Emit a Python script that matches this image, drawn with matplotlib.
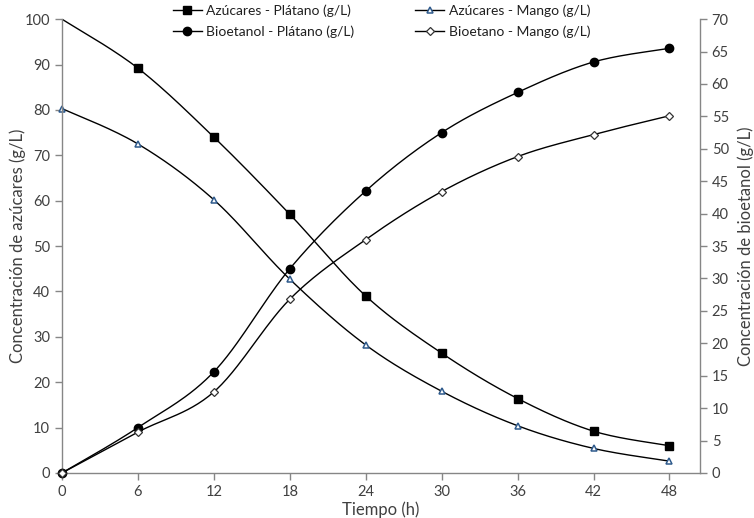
import numpy as np
import matplotlib
matplotlib.use("Agg")
import matplotlib.pyplot as plt
from matplotlib.lines import Line2D

plt.rcParams['font.family'] = ['Lato', 'DejaVu Sans']

# Tiempo de fermentación (h)
tiempo = [0, 6, 12, 18, 24, 30, 36, 42, 48]

# Azúcares (g/L) - eje izquierdo
azucar_platano = [100.0, 89.2, 74.0, 57.0, 39.0, 26.4, 16.4, 9.2, 6.0]
azucar_mango = [80.3, 72.5, 60.2, 42.7, 28.2, 18.0, 10.4, 5.4, 2.6]

# Bioetanol (g/L) - eje derecho
etanol_platano = [0.0, 7.0, 15.6, 31.5, 43.5, 52.5, 58.7, 63.4, 65.5]
etanol_mango = [0.0, 6.3, 12.5, 26.8, 36.0, 43.4, 48.8, 52.2, 55.1]

x_ticks = [0, 6, 12, 18, 24, 30, 36, 42, 48]


def smooth(x, y, n=30):
    """Curva suavizada tipo Bezier (Catmull-Rom) que pasa por los puntos."""
    x = np.asarray(x, float)
    y = np.asarray(y, float)
    xs, ys = [], []
    m = len(x)
    for i in range(m - 1):
        p0 = np.array([x[max(i - 1, 0)], y[max(i - 1, 0)]])
        p1 = np.array([x[i], y[i]])
        p2 = np.array([x[i + 1], y[i + 1]])
        p3 = np.array([x[min(i + 2, m - 1)], y[min(i + 2, m - 1)]])
        c1 = p1 + (p2 - p0) / 6.0
        c2 = p2 - (p3 - p1) / 6.0
        t = np.linspace(0, 1, n)[:, None]
        pts = ((1 - t) ** 3) * p1 + 3 * ((1 - t) ** 2) * t * c1 + 3 * (1 - t) * t ** 2 * c2 + t ** 3 * p2
        xs.extend(pts[:, 0])
        ys.extend(pts[:, 1])
    return np.array(xs), np.array(ys)


fig = plt.figure(figsize=(7.54, 5.18), dpi=100)
ax = fig.add_axes([0.0822, 0.087, 0.846, 0.876])
ax2 = ax.twinx()

axis_gray = '#868686'
text_gray = '#404040'
lw = 1.0
blue = '#2E5A8C'

sq = dict(marker='s', ms=5.8, mfc='black', mec='black')
tri = dict(marker='^', ms=5.0, mfc='white', mec=blue, mew=1.1)
cir = dict(marker='o', ms=6.0, mfc='black', mec='black')
dia = dict(marker='D', ms=3.8, mfc='white', mec='#333333', mew=0.9)

# Azúcares
sx, sy = smooth(tiempo, azucar_platano)
ax.plot(sx, sy, color='black', lw=lw)
ax.plot(tiempo[1:], azucar_platano[1:], ls='none', **sq)
sx, sy = smooth(tiempo, azucar_mango)
ax.plot(sx, sy, color='black', lw=lw)
ax.plot(tiempo, azucar_mango, ls='none', clip_on=False, **tri)

# Bioetanol
sx, sy = smooth(tiempo, etanol_platano)
ax2.plot(sx, sy, color='black', lw=lw)
ax2.plot(tiempo, etanol_platano, ls='none', clip_on=False, **cir)
sx, sy = smooth(tiempo, etanol_mango)
ax2.plot(sx, sy, color='black', lw=lw)
ax2.plot(tiempo, etanol_mango, ls='none', clip_on=False, **dia)

ax.set_xlim(0, 50.4)
ax.set_ylim(0, 100)
ax2.set_ylim(0, 70)
ax.set_xticks(x_ticks)
ax.set_yticks(np.arange(0, 101, 10))
ax2.set_yticks(np.arange(0, 71, 5))

for a in (ax, ax2):
    a.spines['top'].set_visible(False)
    for s in ('left', 'right', 'bottom'):
        a.spines[s].set_color(axis_gray)
        a.spines[s].set_linewidth(1.0)
    a.tick_params(colors=axis_gray, labelcolor=text_gray, labelsize=10.5, length=5, width=1.0)
ax.spines['right'].set_visible(False)
ax2.spines['left'].set_visible(False)
ax2.spines['bottom'].set_visible(False)

ax.set_xlabel('Tiempo (h)', fontsize=12, color=text_gray, labelpad=2)
ax.set_ylabel('Concentración de azúcares (g/L)', fontsize=12, color=text_gray, labelpad=-1)
ax2.set_ylabel('Concentración de bioetanol (g/L)', fontsize=12, color=text_gray, labelpad=6)

handles = [
    Line2D([], [], color='black', lw=lw, **sq),
    Line2D([], [], color='black', lw=lw, **cir),
    Line2D([], [], color='black', lw=lw, **tri),
    Line2D([], [], color='black', lw=lw, **dia),
]
labels = ['Azúcares - Plátano (g/L)', 'Bioetanol - Plátano (g/L)',
          'Azúcares - Mango (g/L)', 'Bioetano - Mango (g/L)']
fig.legend(handles, labels, ncol=2, frameon=False, loc='upper left',
           bbox_to_anchor=(0.229, 0.992), borderpad=0, borderaxespad=0,
           fontsize=10, handlelength=2.1, columnspacing=4.4,
           labelspacing=0.62, handletextpad=0.3, labelcolor='#202020')

fig.savefig('out.png', dpi=100)
